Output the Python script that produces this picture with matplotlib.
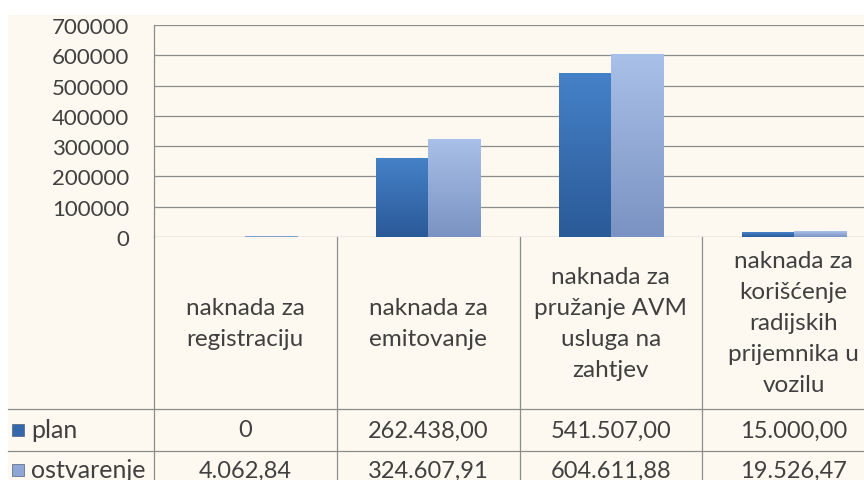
import numpy as np
import matplotlib
matplotlib.use("Agg")
import matplotlib.pyplot as plt
from matplotlib.patches import Rectangle
from matplotlib.transforms import blended_transform_factory

plt.rcParams['font.family'] = ['Lato', 'DejaVu Sans']

# podaci
kategorije = ["naknada za\nregistraciju",
              "naknada za\nemitovanje",
              "naknada za\npružanje AVM\nusluga na\nzahtjev",
              "naknada za\nkorišćenje\nradijskih\nprijemnika u\nvozilu"]
serije = ["plan", "ostvarenje"]
plan = [0, 262438.00, 541507.00, 15000.00]
ostvarenje = [4062.84, 324607.91, 604611.88, 19526.47]
plan_txt = ["0", "262.438,00", "541.507,00", "15.000,00"]
ostvarenje_txt = ["4.062,84", "324.607,91", "604.611,88", "19.526,47"]
y_ticks = [0, 100000, 200000, 300000, 400000, 500000, 600000, 700000]

W, H = 864, 481
tamna = "#3467ab"
svijetla = "#8ea7d6"
tekst = "#404040"
linija = "#8c8c8c"
pozadina = "#fdf9f0"

fig = plt.figure(figsize=(W / 100, H / 100), dpi=100)
fig.patch.set_facecolor("white")

# pozadinska osa u pikselima (tabela)
tab = fig.add_axes([0, 0, 1, 1], zorder=0)
tab.set_xlim(0, W)
tab.set_ylim(H, 0)
tab.axis("off")
tab.add_patch(Rectangle((8, 16), W - 8, H - 16, facecolor=pozadina, edgecolor="none"))

# osa sa stupcima
x0, x1, y_top, y_zero = 154, 885, 26, 238
ax = fig.add_axes([x0 / W, 1 - y_zero / H, (x1 - x0) / W, (y_zero - y_top) / H], zorder=1)
ax.patch.set_visible(False)
x = np.arange(len(kategorije))
sirina = 0.285


def gradijent_stup(bars, c_gore, c_dolje):
    gore = np.array(matplotlib.colors.to_rgb(c_gore))
    dolje = np.array(matplotlib.colors.to_rgb(c_dolje))
    t = np.linspace(0, 1, 64)[:, None]
    img = (gore * (1 - t) + dolje * t)[:, None, :]
    for b in bars:
        if b.get_height() <= 0:
            continue
        xb, yb = b.get_x(), b.get_y()
        im = ax.imshow(img, extent=[xb, xb + b.get_width(), yb, yb + b.get_height()],
                       aspect="auto", zorder=3, origin="upper")
        im.set_clip_path(b)


b1 = ax.bar(x - sirina / 2, plan, sirina, color=tamna, edgecolor="#2a5088", linewidth=0.6, zorder=3)
b2 = ax.bar(x + sirina / 2, ostvarenje, sirina, color=svijetla, edgecolor="#6f87b5", linewidth=0.6, zorder=3)
gradijent_stup(b1, "#4581c8", "#2b5a98")
gradijent_stup(b2, "#a9c0e8", "#7b93c2")

ax.set_xlim(-0.5, len(kategorije) - 0.5)
ax.set_ylim(0, 700000)
ax.set_yticks(y_ticks)
ax.set_yticklabels([str(v) for v in y_ticks])
ax.set_xticks([])
ax.tick_params(axis="y", length=0, pad=18, labelsize=16, labelcolor=tekst)
ax.grid(axis="y", color=linija, linewidth=0.9, zorder=1)
for s in ["top", "right", "bottom"]:
    ax.spines[s].set_visible(False)
ax.spines["left"].set_color(linija)
ax.spines["left"].set_linewidth(0.9)

# tabela ispod grafikona
tr = blended_transform_factory(ax.transData, tab.transData)
y_plan, y_ostv, y_kraj = 410, 452, 494
for i in range(len(kategorije) + 1):
    tab.plot([i - 0.5, i - 0.5], [y_zero, H], color=linija, lw=0.9, transform=tr)
for yy in [y_plan, y_ostv]:
    tab.plot([8, W], [yy, yy], color=linija, lw=0.9)

razmak = 31
sredina = (y_zero + y_plan) / 2
for i, k in enumerate(kategorije):
    redovi = k.split("\n")
    for j, r in enumerate(redovi):
        yy = sredina + (j - (len(redovi) - 1) / 2) * razmak
        tab.text(i, yy, r, transform=tr, ha="center", va="center", fontsize=17.5, color=tekst)
    tab.text(i, (y_plan + y_ostv) / 2, plan_txt[i], transform=tr, ha="center", va="center",
             fontsize=17, color=tekst)
    tab.text(i, (y_ostv + y_kraj) / 2 - 2, ostvarenje_txt[i], transform=tr, ha="center", va="center",
             fontsize=17, color=tekst)

for naziv, boja, yy in [(serije[0], tamna, (y_plan + y_ostv) / 2), (serije[1], svijetla, (y_ostv + y_kraj) / 2 - 2)]:
    tab.add_patch(Rectangle((12, yy - 6), 12, 12, facecolor=boja, edgecolor="#50607a", lw=0.5))
    tab.text(31, yy, naziv, ha="left", va="center", fontsize=18, color=tekst)

fig.savefig("out.png", dpi=100, facecolor=fig.get_facecolor())
